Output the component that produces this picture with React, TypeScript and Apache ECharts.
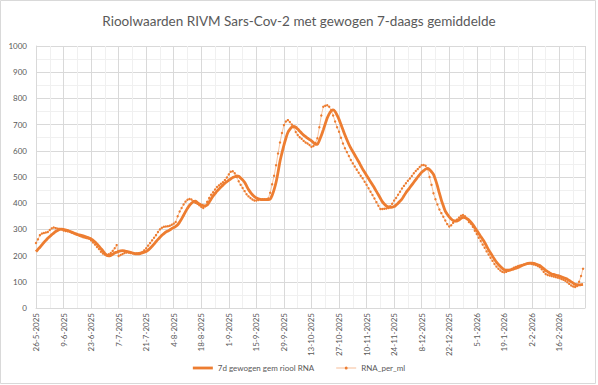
import React, { useEffect, useRef } from "react";
import * as echarts from "echarts";

const TITLE = "Rioolwaarden RIVM Sars-Cov-2 met gewogen 7-daags gemiddelde";
const START_DATE = [2025, 5, 26]; // day index 0 = 26-5-2025
const X_MAX_DAY = 279;
const LABEL_STEP_DAYS = 14;
const Y_TICKS = [0, 100, 200, 300, 400, 500, 600, 700, 800, 900, 1000];

const SERIES_7D_NAME = "7d gewogen gem riool RNA";
const SERIES_RNA_NAME = "RNA_per_ml";

// daily values, day 0 = 26-5-2025
const rnaPerMl = [
  248, 262, 278, 284, 286, 288, 290, 298, 304, 307,
  305, 303, 302, 300, 296, 294, 293, 292, 288, 285,
  282, 279, 276, 273, 270, 268, 266, 264, 258, 250,
  242, 233, 225, 215, 208, 204, 203, 205, 210, 218,
  228, 240, 198, 202, 206, 210, 212, 212, 210, 209,
  208, 208, 209, 211, 214, 220, 228, 238, 248, 258,
  268, 278, 290, 300, 306, 310, 311, 312, 314, 318,
  322, 328, 350, 368, 382, 395, 406, 413, 416, 414,
  408, 402, 398, 392, 386, 382, 388, 405, 420, 432,
  442, 452, 462, 468, 474, 480, 488, 498, 510, 520,
  522, 514, 500, 484, 470, 458, 446, 434, 426, 420,
  414, 410, 410, 412, 414, 415, 415, 415, 418, 440,
  472, 505, 545, 590, 632, 668, 698, 712, 717, 710,
  700, 690, 672, 660, 652, 646, 638, 632, 628, 622,
  615, 618, 630, 648, 690, 735, 768, 772, 774, 768,
  755, 735, 712, 690, 673, 650, 628, 610, 595, 580,
  565, 552, 540, 528, 516, 505, 495, 482, 470, 457,
  444, 431, 418, 404, 390, 378, 378, 379, 380, 382,
  388, 398, 410, 420, 432, 444, 456, 466, 476, 486,
  494, 504, 514, 523, 530, 538, 545, 546, 543, 530,
  500, 470, 438, 415, 395, 376, 362, 348, 334, 320,
  311, 316, 325, 332, 338, 345, 352, 355, 350, 340,
  328, 322, 310, 295, 282, 268, 256, 242, 230, 216,
  204, 192, 180, 168, 158, 150, 143, 138, 136, 138,
  142, 146, 150, 154, 157, 160, 162, 164, 166, 168,
  169, 170, 168, 166, 164, 160, 156, 148, 138, 130,
  126, 124, 122, 120, 118, 116, 114, 111, 108, 104,
  98, 92, 86, 82, 80, 84, 100, 122, 150,
];

const gewogen7d = [
  215, 224, 232, 241, 250, 258, 266, 273, 280, 286,
  292, 296, 300, 301, 300, 298, 296, 293, 290, 287,
  284, 281, 279, 277, 275, 273, 270, 267, 264, 258,
  252, 244, 236, 227, 218, 208, 200, 199, 201, 205,
  210, 213, 216, 218, 219, 218, 216, 214, 212, 210,
  208, 207, 207, 208, 210, 213, 216, 221, 228, 236,
  244, 253, 262, 270, 278, 284, 290, 294, 298, 303,
  307, 312, 318, 328, 340, 354, 368, 381, 392, 400,
  406, 408, 402, 397, 393, 391, 390, 393, 404, 416,
  428, 437, 446, 454, 462, 469, 476, 482, 488, 493,
  498, 501, 504, 503, 496, 489, 480, 466, 452, 441,
  432, 425, 420, 417, 415, 414, 414, 414, 414, 416,
  430, 452, 480, 518, 560, 592, 622, 648, 670, 682,
  690, 693, 690, 683, 675, 667, 660, 654, 648, 643,
  638, 631, 625, 625, 640, 658, 680, 703, 725, 741,
  752, 756, 750, 736, 720, 700, 680, 660, 642, 625,
  610, 597, 584, 571, 558, 544, 530, 518, 506, 494,
  482, 470, 458, 445, 432, 419, 406, 397, 390, 386,
  384, 385, 387, 393, 400, 408, 416, 428, 440, 450,
  460, 470, 480, 490, 500, 509, 518, 524, 530, 533,
  528, 520, 510, 490, 466, 438, 412, 390, 370, 358,
  348, 340, 334, 332, 332, 336, 342, 346, 345, 341,
  336, 328, 318, 307, 296, 285, 273, 262, 250, 236,
  222, 210, 198, 186, 175, 166, 158, 151, 146, 144,
  144, 145, 147, 150, 152, 155, 158, 162, 165, 168,
  170, 171, 171, 170, 168, 165, 162, 156, 150, 144,
  139, 134, 130, 128, 126, 124, 122, 119, 116, 113,
  110, 105, 100, 95, 90, 89, 88, 89, 90,
];

const ORANGE = "#ED7D31";
const TEXT = "#595959";
const FONT = "Lato, 'Liberation Sans', sans-serif";

const ICON_THICK = "path://M0,0 H20 V2.8 H0 Z";
const ICON_MARKER =
  "path://M0,1.15 H20 V1.85 H0 Z M10,0 A1.5,1.5 0 1 1 10,3 A1.5,1.5 0 1 1 10,0 Z";

function dayLabel(day: number): string {
  const d = new Date(START_DATE[0], START_DATE[1] - 1, START_DATE[2] + day);
  return `${d.getDate()}-${d.getMonth() + 1}-${d.getFullYear()}`;
}

export default function App() {
  const ref = useRef<HTMLDivElement>(null);

  useEffect(() => {
    if (!ref.current) return;
    const chart = echarts.init(ref.current, undefined, { renderer: "svg" });
    const option: echarts.EChartsOption = {
      animation: false,
      backgroundColor: "#ffffff",
      textStyle: { fontFamily: FONT },
      title: {
        text: TITLE,
        left: "center",
        top: 9,
        textStyle: { fontFamily: FONT, fontSize: 13.5, fontWeight: "normal", color: TEXT },
      },
      grid: { left: 36, right: 13, top: 46, bottom: 77, containLabel: false },
      xAxis: {
        type: "value",
        min: 0,
        max: X_MAX_DAY,
        interval: LABEL_STEP_DAYS,
        axisLine: { show: true, lineStyle: { color: "#d9d9d9", width: 1 } },
        axisTick: { show: false },
        axisLabel: {
          rotate: 90,
          margin: 5,
          fontSize: 8,
          fontFamily: FONT,
          color: TEXT,
          formatter: (v: number) => (v % LABEL_STEP_DAYS === 0 ? dayLabel(v) : ""),
        },
        splitLine: { show: true, lineStyle: { color: "#d9d9d9", width: 1 } },
        minorTick: { show: false, splitNumber: 2 },
        minorSplitLine: { show: true, lineStyle: { color: "#f0f0f0", width: 1 } },
      },
      yAxis: {
        type: "value",
        min: Y_TICKS[0],
        max: Y_TICKS[Y_TICKS.length - 1],
        interval: Y_TICKS[1] - Y_TICKS[0],
        axisLine: { show: true, lineStyle: { color: "#d9d9d9", width: 1 } },
        axisTick: { show: false },
        axisLabel: {
          margin: 9,
          fontSize: 8,
          fontFamily: FONT,
          color: TEXT,
          formatter: (v: number) => String(v),
        },
        splitLine: { show: true, lineStyle: { color: "#d9d9d9", width: 1 } },
        minorTick: { show: false, splitNumber: 2 },
        minorSplitLine: { show: true, lineStyle: { color: "#f0f0f0", width: 1 } },
      },
      legend: {
        bottom: 8,
        left: "center",
        itemWidth: 20,
        itemHeight: 8,
        itemGap: 22,
        textStyle: { fontFamily: FONT, fontSize: 8, color: TEXT },
        data: [
          { name: SERIES_7D_NAME, icon: ICON_THICK, itemStyle: { color: ORANGE } },
          { name: SERIES_RNA_NAME, icon: ICON_MARKER, itemStyle: { color: ORANGE } },
        ],
      },
      graphic: [
        {
          type: "rect",
          shape: { x: 0.5, y: 0.5, width: 595, height: 383 },
          style: { fill: "none", stroke: "#d9d9d9", lineWidth: 1 },
          silent: true,
        },
      ],
      series: [
        {
          name: SERIES_RNA_NAME,
          type: "line",
          data: rnaPerMl.map((v, i) => [i, v]),
          showSymbol: true,
          symbol: "circle",
          symbolSize: 2.4,
          itemStyle: { color: ORANGE },
          lineStyle: { color: ORANGE, width: 0.75, opacity: 0.6 },
          z: 2,
        },
        {
          name: SERIES_7D_NAME,
          type: "line",
          data: gewogen7d.map((v, i) => [i, v]),
          showSymbol: false,
          symbol: "none",
          smooth: 0.3,
          itemStyle: { color: ORANGE },
          lineStyle: { color: ORANGE, width: 2.8 },
          z: 3,
        },
      ],
    };
    chart.setOption(option);
    return () => chart.dispose();
  }, []);

  return (
    <div
      ref={ref}
      style={{ position: "fixed", left: 0, top: 0, width: 598, height: 385 }}
    />
  );
}
